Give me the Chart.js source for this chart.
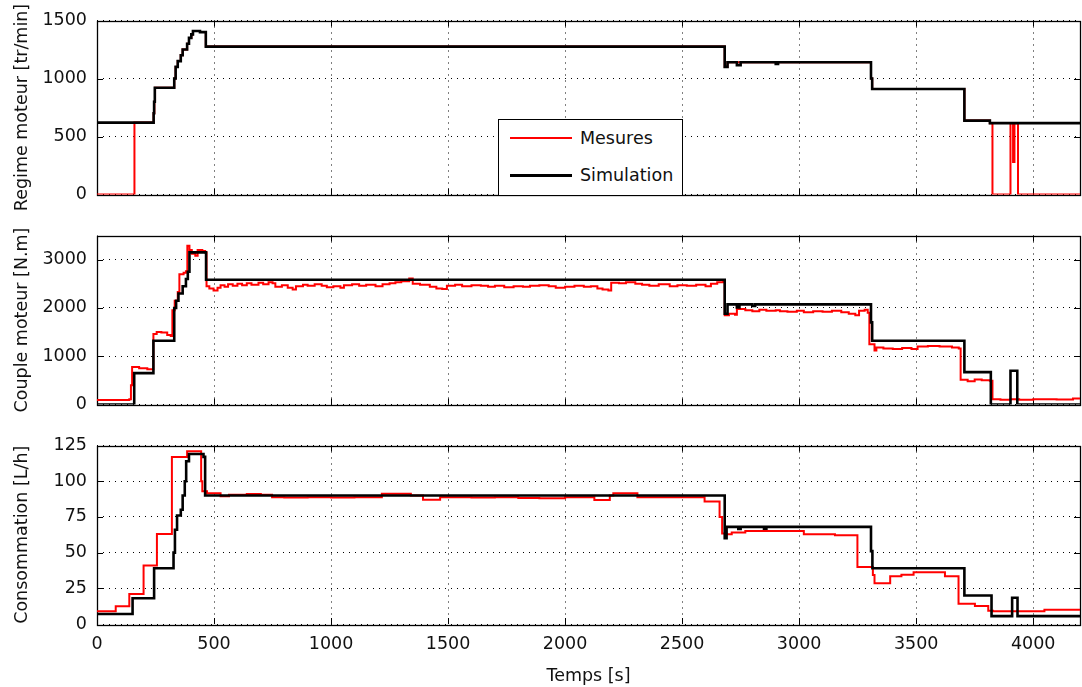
<!DOCTYPE html>
<html>
<head>
<meta charset="utf-8">
<script src="https://cdn.jsdelivr.net/npm/chart.js@4"></script>
<style>
  html, body { margin: 0; padding: 0; background: #fff; }
  #wrap { position: relative; width: 1082px; height: 687px; overflow: hidden; font-family: "DejaVu Sans", sans-serif; }
  canvas { position: absolute; left: 0; }
  #legend { position: absolute; left: 498px; top: 119px; width: 183px; height: 75px; border: 1px solid #000; background: #fff; box-sizing: content-box; }
  .row { position: absolute; left: 0; height: 20px; width: 183px; }
  .swatch { position: absolute; left: 11px; width: 62px; top: 9px; }
  .lab { position: absolute; left: 81px; top: 0; font-size: 17.5px; line-height: 20px; color: #111; white-space: nowrap; }
</style>
</head>
<body>
<div id="wrap">
  <canvas id="c1" width="1082" height="215" style="top:0px"></canvas>
  <canvas id="c2" width="1082" height="210" style="top:215px"></canvas>
  <canvas id="c3" width="1082" height="262" style="top:425px"></canvas>
  <div id="legend"></div>
</div>
<script>
// ---------------- data ----------------
const seriesLabels = ['Mesures', 'Simulation'];
const seriesColors = ['#ff0000', '#000000'];

const xTicks = [0, 500, 1000, 1500, 2000, 2500, 3000, 3500, 4000];
const xMax = 4200;
const xTitle = 'Temps [s]';

// Panel 1 : Regime moteur [tr/min]
const regimeTitle = 'Regime moteur [tr/min]';
const regimeTicks = [0, 500, 1000, 1500];
const regimeMesT = [0, 160, 242, 245, 248, 330, 336, 345, 358, 366, 385, 393, 403, 410, 440, 465, 2682, 2694, 3307, 3312, 3706, 3815, 3826, 3903, 3914, 3920, 3935, 4200];
const regimeMesV = [0, 620, 700, 800, 920, 1000, 1100, 1150, 1200, 1250, 1300, 1350, 1380, 1410, 1400, 1275, 1100, 1140, 1000, 910, 637, 615, 0, 615, 280, 615, 0, 0];
const regimeSimT = [0, 242, 244, 247, 330, 336, 345, 358, 366, 385, 393, 403, 410, 440, 465, 2682, 2694, 2734, 2750, 2900, 2910, 3307, 3312, 3706, 3815, 4200];
const regimeSimV = [620, 700, 800, 920, 1000, 1100, 1150, 1200, 1250, 1300, 1350, 1380, 1410, 1400, 1275, 1100, 1140, 1115, 1140, 1125, 1140, 1000, 910, 637, 615, 615];

// Panel 2 : Couple moteur [N.m]
const coupleTitle = 'Couple moteur [N.m]';
const coupleTicks = [0, 1000, 2000, 3000];
const coupleMesT = [0, 138, 145, 150, 180, 215, 241, 255, 275, 300, 315, 322, 332, 345, 352, 370, 380, 386, 395, 405, 420, 430, 450, 462, 468,
  480, 498, 515, 528, 545, 560, 580, 600, 620, 640, 660, 690, 710, 733, 750, 762, 790, 815, 836, 850, 880, 900, 930, 960, 982,
  1010, 1040, 1055, 1090, 1120, 1150, 1190, 1220, 1250, 1275, 1300, 1334, 1349, 1380, 1422, 1450, 1475, 1495, 1530, 1560, 1600,
  1640, 1671, 1700, 1740, 1780, 1820, 1850, 1890, 1930, 1960, 2000, 2040, 2080, 2110, 2138, 2160, 2185, 2197, 2230, 2260, 2300,
  2329, 2360, 2400, 2447, 2480, 2520, 2560, 2600, 2623, 2650, 2675, 2682, 2700, 2726, 2734, 2741, 2770, 2800, 2830, 2860, 2900,
  2918, 2950, 2990, 3020, 3060, 3100, 3140, 3180, 3212, 3240, 3256, 3280, 3293, 3300, 3322, 3330, 3360, 3400, 3440, 3480, 3506,
  3550, 3600, 3653, 3682, 3690, 3720, 3750, 3780, 3815, 3826, 3860, 3903, 3940, 4000, 4100, 4170, 4200];
const coupleMesV = [95, 110, 400, 775, 750, 730, 1460, 1500, 1490, 1440, 1420, 1950, 2150, 2330, 2700, 2730, 2760, 3290, 3200, 3120, 3080, 3200, 3180, 3150, 2450,
  2400, 2360, 2420, 2470, 2440, 2490, 2460, 2500, 2470, 2510, 2480, 2520, 2490, 2530, 2510, 2440, 2470, 2420, 2380, 2450, 2480, 2460, 2490, 2460, 2430,
  2450, 2420, 2470, 2490, 2460, 2480, 2450, 2490, 2510, 2530, 2550, 2610, 2500, 2480, 2440, 2400, 2390, 2460, 2480, 2450, 2470,
  2460, 2440, 2460, 2430, 2450, 2440, 2460, 2470, 2450, 2420, 2440, 2460, 2440, 2450, 2400, 2380, 2360, 2520, 2510, 2530, 2500,
  2480, 2460, 2490, 2450, 2470, 2460, 2480, 2450, 2500, 2530, 2560, 1850, 1880, 1860, 2040, 1980, 1950, 1930, 1960, 1940, 1950,
  1930, 1920, 1940, 1910, 1930, 1920, 1940, 1910, 1880, 1850, 1940, 1960, 1900, 1250, 1120, 1180, 1160, 1150, 1170, 1150, 1200,
  1210, 1200, 1180, 1160, 510, 480, 520, 500, 490, 108, 100, 110, 100, 110, 105, 125, 120];
const coupleSimT = [0, 159, 241, 330, 338, 348, 366, 380, 388, 395, 466, 2682, 2694, 2734, 2745, 2800, 2812, 3307, 3312, 3706, 3819, 3903, 3932, 4200];
const coupleSimV = [0, 650, 1320, 2000, 2150, 2300, 2450, 2600, 2750, 3150, 2585, 1880, 2074, 2010, 2074, 2040, 2074, 1700, 1320, 670, 0, 700, 0, 0];

// Panel 3 : Consommation [L/h]
const consoTitle = 'Consommation [L/h]';
const consoTicks = [0, 25, 50, 75, 100, 125];
const consoMesT = [0, 80, 138, 199, 256, 320, 385, 445, 450, 470, 528, 564, 640, 700, 748, 800, 900, 1000, 1100, 1217, 1341, 1393, 1466, 1600, 1700, 1800,
  1890, 2000, 2125, 2191, 2206, 2309, 2596, 2660, 2671, 2690, 2712, 2770, 3020, 3153, 3249, 3315, 3322, 3389, 3437, 3489, 3623, 3681, 3751, 3808, 3828, 4048, 4200];
const consoMesV = [9, 12.5, 21, 41, 63, 117, 121, 100, 93, 91.5, 89.5, 90.5, 91, 90.5, 88.7, 88.5, 88.7, 88.5, 88.7, 91.2, 90, 87, 88.7, 88.5, 88.8, 88.3,
  88, 88.7, 86.9, 90, 91.5, 88.7, 85.8, 75, 63.3, 62.9, 64, 65.2, 62.9, 62.2, 40, 34.3, 28.6, 33.4, 34.5, 36.3, 33.4, 14.2, 12.6, 9.2, 9, 9.9, 9.9];
const consoSimT = [0, 152, 244, 327, 333, 342, 358, 366, 375, 381, 393, 455, 462, 2682, 2690, 2740, 2750, 2850, 2860, 3307, 3313, 3706, 3822, 3910, 3933, 4200];
const consoSimV = [7, 18, 39, 50, 66, 76, 80, 90, 100, 114, 119, 117, 90, 60, 68, 66.5, 68, 66.8, 68, 51, 39, 20, 5.5, 18.4, 5.5, 5.5];

// ---------------- helpers ----------------
const FONT = { family: '"DejaVu Sans", sans-serif', size: 17.5 };
const toPts = (t, v) => t.map((x, i) => ({ x: x, y: v[i] }));
const plainNum = v => String(v);

const framePlugin = {
  id: 'frame',
  beforeDatasetsDraw(chart) {
    const { ctx, chartArea: a, scales } = chart;
    ctx.save();
    ctx.strokeStyle = '#000';
    ctx.lineWidth = 1;
    ctx.beginPath();
    const tl = 6;
    scales.x.ticks.forEach(t => {
      const px = Math.round(scales.x.getPixelForValue(t.value)) + 0.5;
      if (px <= a.left + 1 || px >= a.right - 1) return;
      ctx.moveTo(px, a.bottom); ctx.lineTo(px, a.bottom - tl);
      ctx.moveTo(px, a.top); ctx.lineTo(px, a.top + tl);
    });
    scales.y.ticks.forEach(t => {
      const py = Math.round(scales.y.getPixelForValue(t.value)) + 0.5;
      if (py <= a.top + 1 || py >= a.bottom - 1) return;
      ctx.moveTo(a.left, py); ctx.lineTo(a.left + tl, py);
      ctx.moveTo(a.right, py); ctx.lineTo(a.right - tl, py);
    });
    ctx.stroke();
    ctx.lineWidth = 1.3;
    ctx.strokeRect(Math.round(a.left) + 0.5, Math.round(a.top) + 0.5, Math.round(a.right - a.left), Math.round(a.bottom - a.top));
    ctx.restore();
  }
};

function makeChart(id, cfg) {
  const datasets = [
    { label: seriesLabels[0], data: toPts(cfg.mesT, cfg.mesV), borderColor: seriesColors[0], borderWidth: 2, order: 2 },
    { label: seriesLabels[1], data: toPts(cfg.simT, cfg.simV), borderColor: seriesColors[1], borderWidth: 2.6, order: 1 }
  ].map(d => Object.assign(d, { stepped: true, pointRadius: 0, fill: false, tension: 0 }));

  const gridCommon = { color: '#000', lineWidth: 1, drawTicks: false, borderDash: [1, 5] };
  return new Chart(document.getElementById(id), {
    type: 'line',
    data: { datasets },
    options: {
      responsive: false,
      animation: false,
      devicePixelRatio: 1,
      events: [],
      layout: { padding: { top: cfg.padTop, right: 2, left: 0, bottom: 0 } },
      plugins: { legend: { display: false }, tooltip: { enabled: false } },
      scales: {
        x: {
          type: 'linear', min: 0, max: xMax,
          afterBuildTicks: s => { s.ticks = xTicks.map(v => ({ value: v })); },
          afterFit: s => { s.height = cfg.xHeight; },
          grid: gridCommon,
          border: { display: false, dash: [1, 5] },
          ticks: { display: cfg.showX, font: FONT, color: '#111', padding: 10, maxRotation: 0, autoSkip: false, callback: plainNum },
          title: { display: cfg.showX, text: xTitle, font: FONT, color: '#111', padding: { top: 0, bottom: 0 } }
        },
        y: {
          type: 'linear', min: cfg.yMin, max: cfg.yMax,
          afterBuildTicks: s => { s.ticks = cfg.yTicks.map(v => ({ value: v })); },
          afterFit: s => { s.width = 97; },
          grid: gridCommon,
          border: { display: false, dash: [1, 5] },
          ticks: { font: FONT, color: '#111', padding: 10, callback: plainNum },
          title: { display: true, text: cfg.yTitle, font: FONT, color: '#111', padding: { top: 12, bottom: 0 } }
        }
      }
    },
    plugins: [framePlugin]
  });
}

makeChart('c1', { mesT: regimeMesT, mesV: regimeMesV, simT: regimeSimT, simV: regimeSimV,
  yMin: 0, yMax: 1500, yTicks: regimeTicks, yTitle: regimeTitle, padTop: 20, xHeight: 12, showX: false });
makeChart('c2', { mesT: coupleMesT, mesV: coupleMesV, simT: coupleSimT, simV: coupleSimV,
  yMin: 0, yMax: 3500, yTicks: coupleTicks, yTitle: coupleTitle, padTop: 16, xHeight: 12, showX: false });
makeChart('c3', { mesT: consoMesT, mesV: consoMesV, simT: consoSimT, simV: consoSimV,
  yMin: 0, yMax: 125, yTicks: consoTicks, yTitle: consoTitle, padTop: 17, xHeight: 63, showX: true });

// ---------------- legend (HTML, real text) ----------------
const legend = document.getElementById('legend');
const rowTops = [8, 45];
const lineW = [2.5, 3];
seriesLabels.forEach((lab, i) => {
  const row = document.createElement('div');
  row.className = 'row';
  row.style.top = rowTops[i] + 'px';
  const sw = document.createElement('div');
  sw.className = 'swatch';
  sw.style.borderTop = lineW[i] + 'px solid ' + seriesColors[i];
  const tx = document.createElement('div');
  tx.className = 'lab';
  tx.textContent = lab;
  row.appendChild(sw); row.appendChild(tx);
  legend.appendChild(row);
});
</script>
</body>
</html>
